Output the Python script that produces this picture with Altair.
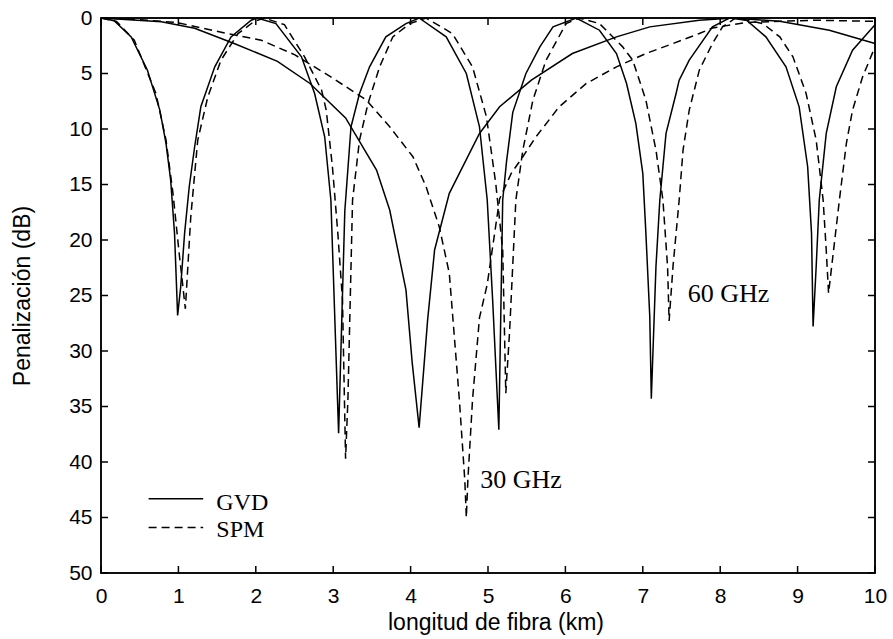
import altair as alt
import pandas as pd

# ---- tick values ----
x_ticks = list(range(0, 11))
y_ticks = list(range(0, 55, 5))

# ---- 60 GHz, GVD (solid) ----
gvd60_km = [0, 0.17, 0.39, 0.6, 0.76, 0.84, 0.9, 0.95, 0.99, 1.03, 1.08, 1.14, 1.21, 1.29, 1.47, 1.68, 1.94, 2.02,
            2.26, 2.59, 2.76, 2.89, 2.97, 3.07, 3.15, 3.23, 3.34, 3.47, 3.68, 3.94, 4.11, 4.46, 4.72, 4.89, 4.99,
            5.06, 5.14, 5.19, 5.24, 5.32, 5.49, 5.67, 5.84, 6.14, 6.44, 6.66, 6.79, 6.91, 7.0, 7.04, 7.09, 7.11,
            7.17, 7.22, 7.3, 7.43, 7.47, 7.6, 7.9, 8.12, 8.34, 8.59, 8.85, 9.02, 9.13, 9.18, 9.2, 9.24, 9.28,
            9.37, 9.5, 9.71, 10.0]
gvd60_db = [0, 0.25, 1.7, 4.7, 8.3, 11.3, 14.6, 19.4, 26.8, 24.2, 19.4, 15.2, 11.6, 8.0, 4.4, 1.7, 0.2, 0,
            0.5, 3.5, 6.8, 10.7, 16.4, 37.4, 17.4, 9.8, 6.8, 4.4, 1.7, 0.5, 0, 1.7, 5.0, 9.8, 16.4,
            25.4, 37.1, 16.4, 12.9, 8.5, 5.0, 2.6, 0.8, 0, 1.1, 3.2, 5.9, 9.5, 14.0, 19.4, 26.9, 34.3,
            22.4, 16.4, 10.4, 6.8, 5.6, 3.8, 0.8, 0, 0.2, 1.7, 4.4, 8.0, 13.4, 19.4, 27.8, 22.4, 16.4,
            10.4, 6.2, 2.9, 0.6]

# ---- 60 GHz, SPM (dashed) ----
spm60_km = [0, 0.2, 0.43, 0.71, 0.84, 0.93, 1.01, 1.09, 1.16, 1.25, 1.38, 1.55, 1.77, 1.98, 2.11, 2.37, 2.63,
            2.85, 2.91, 2.99, 3.06, 3.12, 3.16, 3.19, 3.22, 3.25, 3.34, 3.45, 3.6, 3.77, 3.99, 4.2, 4.54, 4.8,
            4.98, 5.1, 5.19, 5.23, 5.28, 5.36, 5.45, 5.58, 5.75, 6.01, 6.18, 6.44, 6.74, 6.87, 7.04, 7.17,
            7.26, 7.32, 7.34, 7.39, 7.47, 7.52, 7.6, 7.73, 7.9, 8.03, 8.2, 8.55, 8.77, 8.94, 9.11, 9.24, 9.33,
            9.37, 9.4, 9.45, 9.54, 9.63, 9.71, 9.84, 10.0]
spm60_db = [0, 0.3, 2.0, 6.8, 11.0, 15.8, 21.2, 26.2, 17.9, 11.0, 7.1, 3.8, 1.4, 0.3, 0, 0.6, 3.5,
            6.5, 8.3, 13.4, 19.4, 25.4, 39.7, 34.4, 25.4, 16.4, 11.0, 7.7, 4.4, 1.7, 0.5, 0, 1.4, 4.4,
            8.9, 14.9, 20.9, 33.8, 28.1, 16.4, 11.9, 7.4, 3.8, 0.5, 0, 0.5, 2.6, 3.8, 7.4, 11.9,
            16.4, 22.4, 27.3, 22.4, 16.4, 11.9, 8.3, 4.7, 2.3, 0.8, 0, 0.5, 1.7, 3.5, 6.8, 11.0, 16.4,
            20.9, 24.8, 21.8, 16.4, 11.3, 8.3, 5.3, 2.6]

# ---- 30 GHz, GVD (solid) ----
gvd30_km = [0, 0.78, 1.21, 1.72, 2.28, 2.7, 3.16, 3.56, 3.73, 3.94, 4.02, 4.11, 4.22, 4.31, 4.5, 4.89, 5.15,
            5.56, 6.09, 6.66, 7.09, 7.73, 8.16, 8.77, 9.41, 10.0]
gvd30_db = [0, 0.33, 0.93, 2.3, 3.9, 5.9, 9.0, 13.7, 17.3, 24.5, 31.0, 36.9, 27.2, 20.9, 15.8, 10.4, 8.0,
            5.6, 3.2, 1.7, 0.8, 0.2, 0, 0.3, 1.1, 2.3]

# ---- 30 GHz, SPM (dashed) ----
spm30_km = [0, 0.5, 0.99, 1.63, 2.07, 2.5, 2.99, 3.43, 3.73, 4.03, 4.2, 4.37, 4.5, 4.54, 4.63, 4.7, 4.72,
            4.74, 4.8, 4.89, 4.99, 5.15, 5.3, 5.45, 5.62, 5.92, 6.27, 6.66, 7.04, 7.39, 7.73, 7.9, 8.34,
            9.2, 10.0]
spm30_db = [0, 0.15, 0.42, 1.4, 2.0, 3.3, 5.4, 7.4, 9.8, 12.5, 15.2, 18.8, 23.0, 26.5, 34.4, 41.6, 45.0,
            41.6, 34.4, 27.0, 24.0, 16.3, 14.0, 12.5, 10.7, 8.0, 5.9, 4.4, 3.2, 2.3, 1.4, 0.9, 0.4,
            0.2, 0.3]

# ---- annotations and legend ----
note_text = ["30 GHz", "60 GHz"]
note_km = [4.9, 7.58]
note_db = [42.3, 25.6]

legend_names = ["GVD", "SPM"]
legend_x1 = [0.615, 0.615]
legend_x2 = [1.32, 1.32]
legend_line_db = [43.3, 45.9]
legend_text_km = [1.49, 1.49]
legend_text_db = [44.3, 46.8]

# ---- plot frame extent (axis limits) ----
frame_km = [0.0, 10.0]
frame_db = [0.0, 50.0]


def frame(km, db, name):
    return pd.DataFrame({"km": km, "db": db, "serie": name})


solid_df = pd.concat([frame(gvd60_km, gvd60_db, "GVD 60 GHz"), frame(gvd30_km, gvd30_db, "GVD 30 GHz")],
                     ignore_index=True)
dashed_df = pd.concat([frame(spm60_km, spm60_db, "SPM 60 GHz"), frame(spm30_km, spm30_db, "SPM 30 GHz")],
                      ignore_index=True)

W, H = 774, 555
SANS = "Liberation Sans"
SERIF = "Liberation Serif"
INK = "#000000"
TL = 7
TX = TL * 10 / W   # inner tick length in km
TY = TL * 50 / H   # inner tick length in dB

xs = alt.Scale(domain=[0, 10], nice=False, zero=False)
ys = alt.Scale(domain=[0, 50], reverse=True, nice=False, zero=False)

x_axis = alt.Axis(values=x_ticks, format="d", ticks=False, domain=False, grid=False, labelFlush=False,
                  labelFont=SANS, labelFontSize=21, labelPadding=12, labelColor="black",
                  title="longitud de fibra (km)", titleFont=SANS, titleFontSize=23, titleFontWeight="normal",
                  titleColor="black", titleX=394.5, titleY=56, titleBaseline="alphabetic", titleAlign="center")
y_axis = alt.Axis(values=y_ticks, format="d", ticks=False, domain=False, grid=False, labelFlush=False,
                  labelFont=SANS, labelFontSize=21, labelPadding=9, labelColor="black",
                  title="Penalización (dB)", titleFont=SANS, titleFontSize=23, titleFontWeight="normal",
                  titleColor="black", titleX=-72, titleY=H / 2, titleBaseline="alphabetic",
                  titleAlign="center", titleAngle=270)

# frame drawn as an unfilled rect from the axis limits
frame_df = pd.DataFrame({"x0": [frame_km[0]], "x1": [frame_km[1]], "y0": [frame_db[0]], "y1": [frame_db[1]]})
frame_layer = alt.Chart(frame_df).mark_rect(filled=False, stroke=INK, strokeWidth=1.5, fillOpacity=0).encode(
    x=alt.X("x0:Q", scale=xs, axis=x_axis), x2="x1:Q",
    y=alt.Y("y0:Q", scale=ys, axis=y_axis), y2="y1:Q",
)

solid_layer = alt.Chart(solid_df).mark_line(color="black", strokeWidth=1.5).encode(
    x=alt.X("km:Q", scale=xs),
    y=alt.Y("db:Q", scale=ys),
    detail="serie:N",
)
dashed_layer = alt.Chart(dashed_df).mark_line(color="black", strokeWidth=1.5, strokeDash=[8, 5]).encode(
    x=alt.X("km:Q", scale=xs),
    y=alt.Y("db:Q", scale=ys),
    detail="serie:N",
)

# inner tick marks (MATLAB style), built from the tick value lists
n_x, n_y = len(x_ticks), len(y_ticks)
xt_bottom = pd.DataFrame({"km": x_ticks, "a": [50.0] * n_x, "b": [50.0 - TY] * n_x})
xt_top = pd.DataFrame({"km": x_ticks, "a": [0.0] * n_x, "b": [TY] * n_x})
yt_left = pd.DataFrame({"db": y_ticks, "a": [0.0] * n_y, "b": [TX] * n_y})
yt_right = pd.DataFrame({"db": y_ticks, "a": [10.0] * n_y, "b": [10.0 - TX] * n_y})

tick_bottom = alt.Chart(xt_bottom).mark_rule(color=INK, strokeWidth=1.5).encode(
    x=alt.X("km:Q", scale=xs), y=alt.Y("a:Q", scale=ys), y2="b:Q")
tick_top = alt.Chart(xt_top).mark_rule(color=INK, strokeWidth=1.5).encode(
    x=alt.X("km:Q", scale=xs), y=alt.Y("a:Q", scale=ys), y2="b:Q")
tick_left = alt.Chart(yt_left).mark_rule(color=INK, strokeWidth=1.5).encode(
    y=alt.Y("db:Q", scale=ys), x=alt.X("a:Q", scale=xs), x2="b:Q")
tick_right = alt.Chart(yt_right).mark_rule(color=INK, strokeWidth=1.5).encode(
    y=alt.Y("db:Q", scale=ys), x=alt.X("a:Q", scale=xs), x2="b:Q")

notes_df = pd.DataFrame({"t": note_text, "km": note_km, "db": note_db})
notes = alt.Chart(notes_df).mark_text(font=SERIF, fontSize=26, align="left", baseline="alphabetic",
                                      color="black").encode(
    x=alt.X("km:Q", scale=xs), y=alt.Y("db:Q", scale=ys), text="t:N")

leg_df = pd.DataFrame({"name": legend_names, "x1": legend_x1, "x2": legend_x2, "y": legend_line_db,
                       "tx": legend_text_km, "ty": legend_text_db})
leg_solid = alt.Chart(leg_df[leg_df["name"] == "GVD"]).mark_rule(color="black", strokeWidth=1.5).encode(
    x=alt.X("x1:Q", scale=xs), x2="x2:Q", y=alt.Y("y:Q", scale=ys))
leg_dash = alt.Chart(leg_df[leg_df["name"] == "SPM"]).mark_rule(color="black", strokeWidth=1.5,
                                                                  strokeDash=[8, 5]).encode(
    x=alt.X("x1:Q", scale=xs), x2="x2:Q", y=alt.Y("y:Q", scale=ys))
leg_text = alt.Chart(leg_df).mark_text(font=SERIF, fontSize=24, align="left", baseline="alphabetic",
                                       color="black").encode(
    x=alt.X("tx:Q", scale=xs), y=alt.Y("ty:Q", scale=ys), text="name:N")

chart = alt.layer(
    frame_layer, solid_layer, dashed_layer, tick_bottom, tick_top, tick_left, tick_right,
    notes, leg_solid, leg_dash, leg_text
).properties(
    width=W, height=H,
    padding={"left": 101, "top": 18, "right": 18, "bottom": 66},
    autosize=alt.AutoSizeParams(type="none"),
).configure_view(stroke=INK, strokeWidth=1.5)

chart.save("out.html", embed_options={"renderer": "svg", "actions": False})
